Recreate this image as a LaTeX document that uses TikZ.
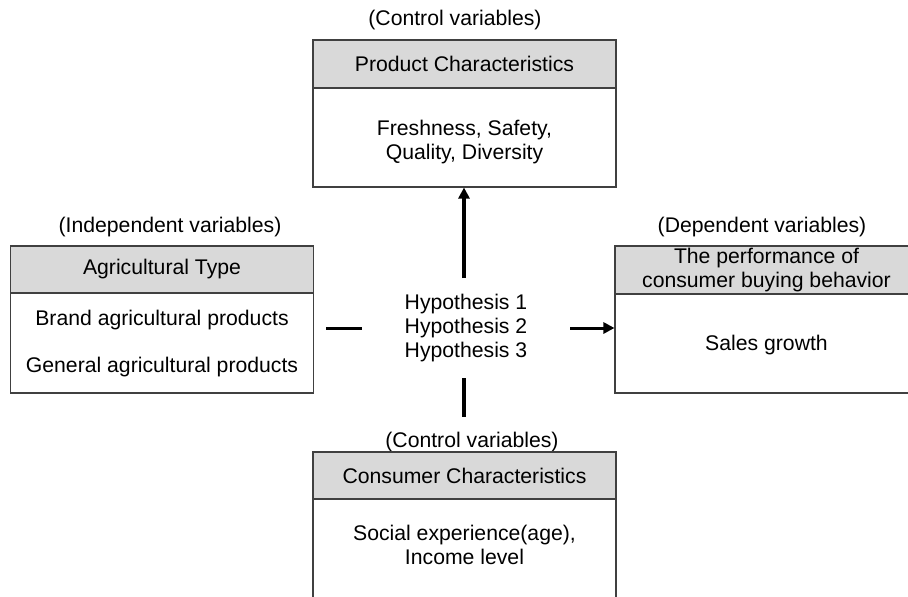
\documentclass[tikz,border=0pt]{standalone}
\usepackage{fontspec}
\setmainfont{Liberation Sans}
\usetikzlibrary{arrows.meta}
\begin{document}
\begin{tikzpicture}[x=1pt,y=-1pt,
  every node/.style={font=\fontsize{21.2}{24}\selectfont, inner sep=0pt},
  hdr/.style={draw=black!75, line width=1.1pt, fill=black!15, minimum width=303pt, minimum height=47pt},
  bodybox/.style={draw=black!75, line width=1.1pt, fill=white, minimum width=303pt, minimum height=100pt},
  txt/.style={align=center},
  conn/.style={line width=3.5pt, draw=black},
  arr/.style={conn, -{Triangle[width=11pt,length=11pt]}}]
\useasboundingbox (0,0) rectangle (908,597);
\clip (0,0) rectangle (908,597);
% top box
\node[txt] (lbtop) at (455,20) {(Control variables)};
\node[bodybox, minimum height=99pt] (topb) at (464.5,137.5) {};
\node[hdr, minimum height=48pt] (toph) at (464.5,64) {Product Characteristics};
\node[txt] (toptxt) at (464.5,142) {Freshness, Safety,\\Quality, Diversity};
% left box
\node[txt] (lbleft) at (170,227) {(Independent variables)};
\node[bodybox] (leftb) at (162,343) {};
\node[hdr] (lefth) at (162,269.5) {Agricultural Type};
\node[txt] (lt1) at (162,320) {Brand agricultural products};
\node[txt] (lt2) at (162,367) {General agricultural products};
% right box
\node[txt] (lbright) at (762,227) {(Dependent variables)};
\node[bodybox, minimum height=99pt] (rightb) at (766.5,343.5) {};
\node[hdr, minimum height=48pt, txt] (righth) at (766.5,270) {The performance of\\consumer buying behavior};
\node[txt] (rt1) at (766.5,345) {Sales growth};
% bottom box
\node[txt] (lbbot) at (472,442) {(Control variables)};
\node[bodybox] (botb) at (464.5,549) {};
\node[hdr] (both) at (464.5,475.5) {Consumer Characteristics};
\node[txt] (bottxt) at (464.5,545) {Social experience(age),\\Income level};
% hypotheses
\node[txt] (hyp) at (466,328) {Hypothesis 1\\Hypothesis 2\\Hypothesis 3};
% connectors
\coordinate (upS) at (464,278);
\coordinate (lS) at (326,328);
\coordinate (lE) at (362,328);
\coordinate (rS) at (570,328);
\coordinate (dS) at (464,378);
\coordinate (dE) at (464,417);
\draw[arr] (upS) -- (upS |- topb.south);
\draw[conn, line width=3pt] (lS) -- (lE);
\draw[arr, line width=3pt] (rS) -- (rS -| rightb.west);
\draw[conn] (dS) -- (dE);
\end{tikzpicture}
\end{document}
